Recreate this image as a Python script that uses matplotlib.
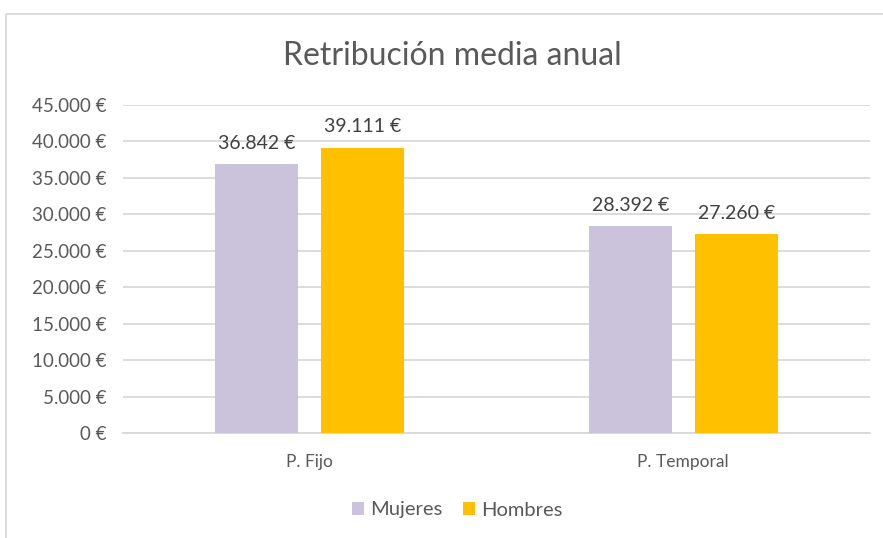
import matplotlib
matplotlib.use("Agg")
import matplotlib.pyplot as plt
from matplotlib.patches import Rectangle
import numpy as np

categories = ["P. Fijo", "P. Temporal"]
series = ["Mujeres", "Hombres"]
mujeres = [36842, 28392]
hombres = [39111, 27260]
yticks = [0, 5000, 10000, 15000, 20000, 25000, 30000, 35000, 40000, 45000]

COLORS = {"Mujeres": "#CBC2DB", "Hombres": "#FFC000"}
GRID = "#D9D9D9"
TXT = "#595959"

plt.rcParams["font.family"] = ["Lato", "DejaVu Sans"]


def eur(v):
    return f"{v:,.0f}".replace(",", ".") + " €"


fig = plt.figure(figsize=(8.83, 5.38), dpi=100)
# chart frame (Excel-like border, cut at the right/bottom)
fig.patches.append(Rectangle((6 / 883, -0.01), 880 / 883, (538 - 14) / 538 + 0.01,
                             transform=fig.transFigure, fill=False,
                             edgecolor=GRID, linewidth=1.3))

ax = fig.add_axes([123 / 883, (538 - 433) / 538, (870 - 123) / 883, (433 - 105) / 538])
x = np.arange(len(categories))
w = 0.222
off = 0.142
b1 = ax.bar(x - off, mujeres, w, color=COLORS["Mujeres"], label="Mujeres", zorder=3)
b2 = ax.bar(x + off, hombres, w, color=COLORS["Hombres"], label="Hombres", zorder=3)

for bars, vals in ((b1, mujeres), (b2, hombres)):
    for r, v in zip(bars, vals):
        ax.annotate(eur(v), (r.get_x() + r.get_width() / 2, v), xytext=(0, 9),
                    textcoords="offset points", ha="center", va="bottom",
                    fontsize=14, color="#404040")

ax.set_xlim(-0.5, 1.5)
ax.set_ylim(0, 45000)
ax.set_yticks(yticks)
ax.set_yticklabels([eur(v) for v in yticks], fontsize=13.5, color=TXT)
ax.set_xticks(x)
ax.set_xticklabels(categories, fontsize=12.5, color=TXT)
ax.tick_params(length=0)
ax.tick_params(axis="y", pad=12)
ax.tick_params(axis="x", pad=15)
ax.grid(axis="y", color=GRID, linewidth=1.3, zorder=0)
for s in ("top", "right", "left"):
    ax.spines[s].set_visible(False)
ax.spines["bottom"].set_color(GRID)
ax.spines["bottom"].set_linewidth(1.3)

fig.text(452 / 883, 1 - 56 / 538, "Retribución media anual", ha="center", va="center",
         fontsize=23, color=TXT)

fig.legend(handles=[b1, b2], labels=series, loc="center", bbox_to_anchor=(457 / 883, 1 - 510 / 538),
           ncol=2, frameon=False, fontsize=14.5, labelcolor=TXT, handlelength=0.6,
           handleheight=0.6, handletextpad=0.3, columnspacing=1.0)

fig.savefig("out.png", dpi=100)
